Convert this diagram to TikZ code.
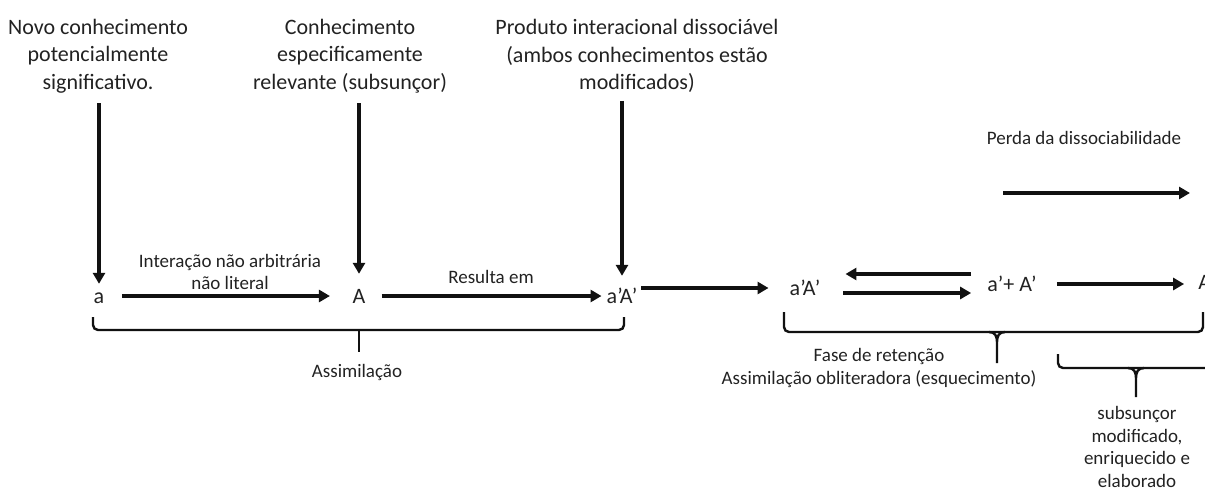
\documentclass[tikz,border=0pt]{standalone}
\usepackage{fontspec}
\setmainfont{Carlito}
\usepackage{xcolor}
\usetikzlibrary{arrows.meta, positioning, calc}
\definecolor{txtgray}{RGB}{34,34,34}
\definecolor{inkblack}{RGB}{17,17,17}
\newcommand{\bigtxt}{\fontsize{22}{27.5}\selectfont}
\newcommand{\smalltxt}{\fontsize{19}{22.6}\selectfont}

\begin{document}
\begin{tikzpicture}[x=1pt,y=-1pt,every node/.style={text=txtgray},
  head/.style={font=\bigtxt,align=center,inner sep=0pt},
  term/.style={font=\bigtxt,inner xsep=16pt,inner ysep=2pt,text height=15pt,text depth=1pt,anchor=base},
  lbl/.style={font=\smalltxt,align=center,inner sep=0pt},
  arr/.style={-{Triangle[length=11pt,width=12pt]},draw=inkblack,line width=3.2pt},
  brk/.style={draw=inkblack,line width=2.4pt,rounded corners=5pt}]
  \useasboundingbox (0,0) rectangle (1205,492);
  \clip (0,0) rectangle (1205,492);

  % top texts
  \node[head] (t1) at (98,56) {Novo conhecimento\\potencialmente\\significativo.};
  \node[head] (t2) at (350,56) {Conhecimento\\especificamente\\relevante (subsunçor)};
  \node[head] (t3) at (637,56) {Produto interacional dissociável\\(ambos conhecimentos estão\\modificados)};

  % terms
  \node[term] (a) at (99,303) {a};
  \node[term] (A) at (359,303) {A};
  \node[term] (pAA) at (622,303) {a’A’};
  \node[term] (qAA) at (805,295) {a’A’};
  \node[term] (sum) at (1012,291) {a’+ A’};
  \node[term] (Aend) at (1207,289) {A’};

  % labels
  \node[lbl] (interac) at (230,272) {Interação não arbitrária\\não literal};
  \node[lbl,anchor=base] (resulta) at (491,283) {Resulta em};
  \node[lbl,anchor=base] (assim) at (357,377) {Assimilação};
  \node[lbl] (fase) at (879,368) {Fase de retenção\\Assimilação obliteradora (esquecimento)};
  \node[lbl,anchor=base] (perda) at (1084,145) {Perda da dissociabilidade};
  \node[lbl] (subs) at (1137,447) {subsunçor\\modificado,\\enriquecido e\\elaborado};

  % vertical arrows
  \draw[arr,shorten <=10pt,shorten >=2pt] (a |- t1.south) -- (a.north);
  \draw[arr,shorten <=10pt,shorten >=12pt] (A |- t2.south) -- (A.north);
  \draw[arr,shorten <=8pt,shorten >=10pt] (pAA |- t3.south) -- (pAA.north);

  % horizontal arrows
  \draw[arr,shorten <=1.5pt,shorten >=6.5pt] (a.east) -- (A.west);
  \draw[arr,shorten >=-11pt] (A.east) -- (pAA.west);
  \draw[arr,shorten <=-12pt,shorten >=5pt] (qAA.west -| pAA.east) -- (qAA.west);
  \draw[arr,shorten <=7pt] ([yshift=-9pt]qAA.east |- sum.east) -- ([yshift=-9pt]sum.west);
  \draw[arr,shorten >=9pt] ([yshift=10pt]sum.west) -- ([yshift=10pt]qAA.east |- sum.west);
  \draw[arr,shorten <=4pt,shorten >=-2pt] (sum.east) -- (sum.east -| Aend.west);
  \coordinate (p0) at (1003,193);
  \coordinate (p1) at (1190,193);
  \draw[arr] (p0) -- (p1);

  % brackets
  \draw[brk] (93,317) -- (93,330) -- (624,330) -- (624,317);
  \draw[brk] (359,330) -- (359,352);
  \draw[brk] (784,312) -- (784,332) -- (1203,332) -- (1203,312);
  \draw[draw=inkblack,line width=2.4pt] (989,332) .. controls (995,332) and (997,336) .. (997,342) -- (997,363)
    (1005,332) .. controls (999,332) and (997,336) .. (997,342);
  \draw[brk] (1058,354) -- (1058,368) -- (1230,368);
  \draw[draw=inkblack,line width=2.4pt] (1128,368) .. controls (1134,368) and (1136,372) .. (1136,378) -- (1136,397)
    (1144,368) .. controls (1138,368) and (1136,372) .. (1136,378);
\end{tikzpicture}
\end{document}
